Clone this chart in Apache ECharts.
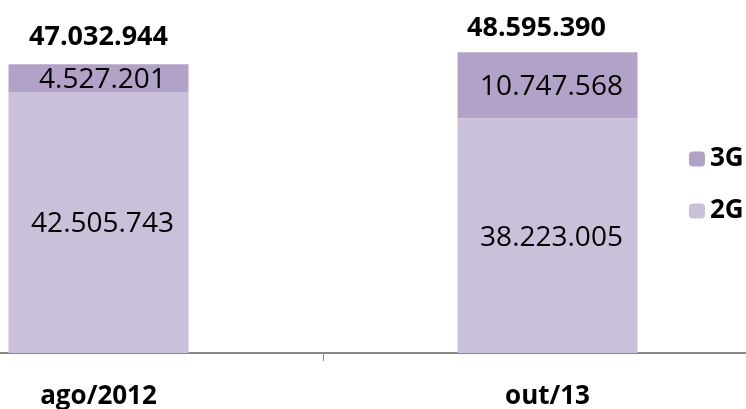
<!DOCTYPE html>
<html>
<head>
<meta charset="utf-8">
<script src="https://cdn.jsdelivr.net/npm/echarts@6/dist/echarts.min.js"></script>
<style>
    html, body {margin:0;padding:0;background:#fff;}
    #chart {width:746px;height:409px;}
</style>
</head>
<body>
<div id="chart"></div>
<script>
    var categories = ['ago/2012', 'out/13'];
    var values2G = [42505743, 38223005];
    var values3G = [4527201, 10747568];
    var totals = [47032944, 48595390];

    // numero com ponto como separador de milhar
    var fmt = function (v) {
        return String(v).replace(/\B(?=(\d{3})+(?!\d))/g, '.');
    };

    var font = "'Open Sans', 'Liberation Sans', sans-serif";
    var myChart = echarts.init(document.getElementById('chart'));
    var option = {
        animation: false,
        grid: {left: -126, right: -26, top: 46, bottom: 56, outerBoundsMode: 'none', containLabel: false},
        legend: {
            orient: 'vertical',
            left: 684,
            top: 141,
            itemWidth: 16,
            itemHeight: 15,
            itemGap: 26,
            data: ['3G', '2G'],
            textStyle: {fontFamily: font, fontSize: 26, fontWeight: 'bold', color: '#000'}
        },
        xAxis: {
            type: 'category',
            data: categories,
            axisLine: {lineStyle: {color: '#888', width: 2}},
            axisTick: {show: true, interval: 0, alignWithLabel: false, length: 8, lineStyle: {color: '#888', width: 1}},
            axisLabel: {fontFamily: font, fontSize: 26, fontWeight: 'bold', color: '#000', margin: 31}
        },
        yAxis: {
            type: 'value',
            min: 0,
            max: 50000000,
            show: false,
            splitLine: {show: false}
        },
        series: [
            {
                name: '2G',
                type: 'bar',
                stack: 'total',
                barWidth: 180,
                barGap: '-100%',
                itemStyle: {color: '#cbc0da'},
                label: {
                    show: true, position: 'inside', offset: [4, 2],
                    fontFamily: font, fontSize: 28, color: '#000',
                    formatter: function (p) { return fmt(p.value); }
                },
                data: values2G
            },
            {
                name: '3G',
                type: 'bar',
                stack: 'total',
                barWidth: 180,
                barGap: '-100%',
                itemStyle: {color: '#b3a2c7'},
                label: {
                    show: true, position: 'inside', offset: [4, 2],
                    fontFamily: font, fontSize: 28, color: '#000',
                    formatter: function (p) { return fmt(p.value); }
                },
                data: values3G
            },
            {
                name: 'Total',
                type: 'bar',
                barWidth: 180,
                barGap: '-100%',
                itemStyle: {color: 'rgba(0,0,0,0)'},
                silent: true,
                label: {
                    show: true, position: 'top', distance: 13,
                    fontFamily: font, fontSize: 27, fontWeight: 'bold', color: '#000',
                    formatter: function (p) { return fmt(p.value); }
                },
                data: totals.map(function (v, i) {
                    return {value: v, label: {offset: [i === 1 ? -11 : 0, 0]}};
                })
            }
        ]
    };
    myChart.setOption(option);
</script>
</body>
</html>
